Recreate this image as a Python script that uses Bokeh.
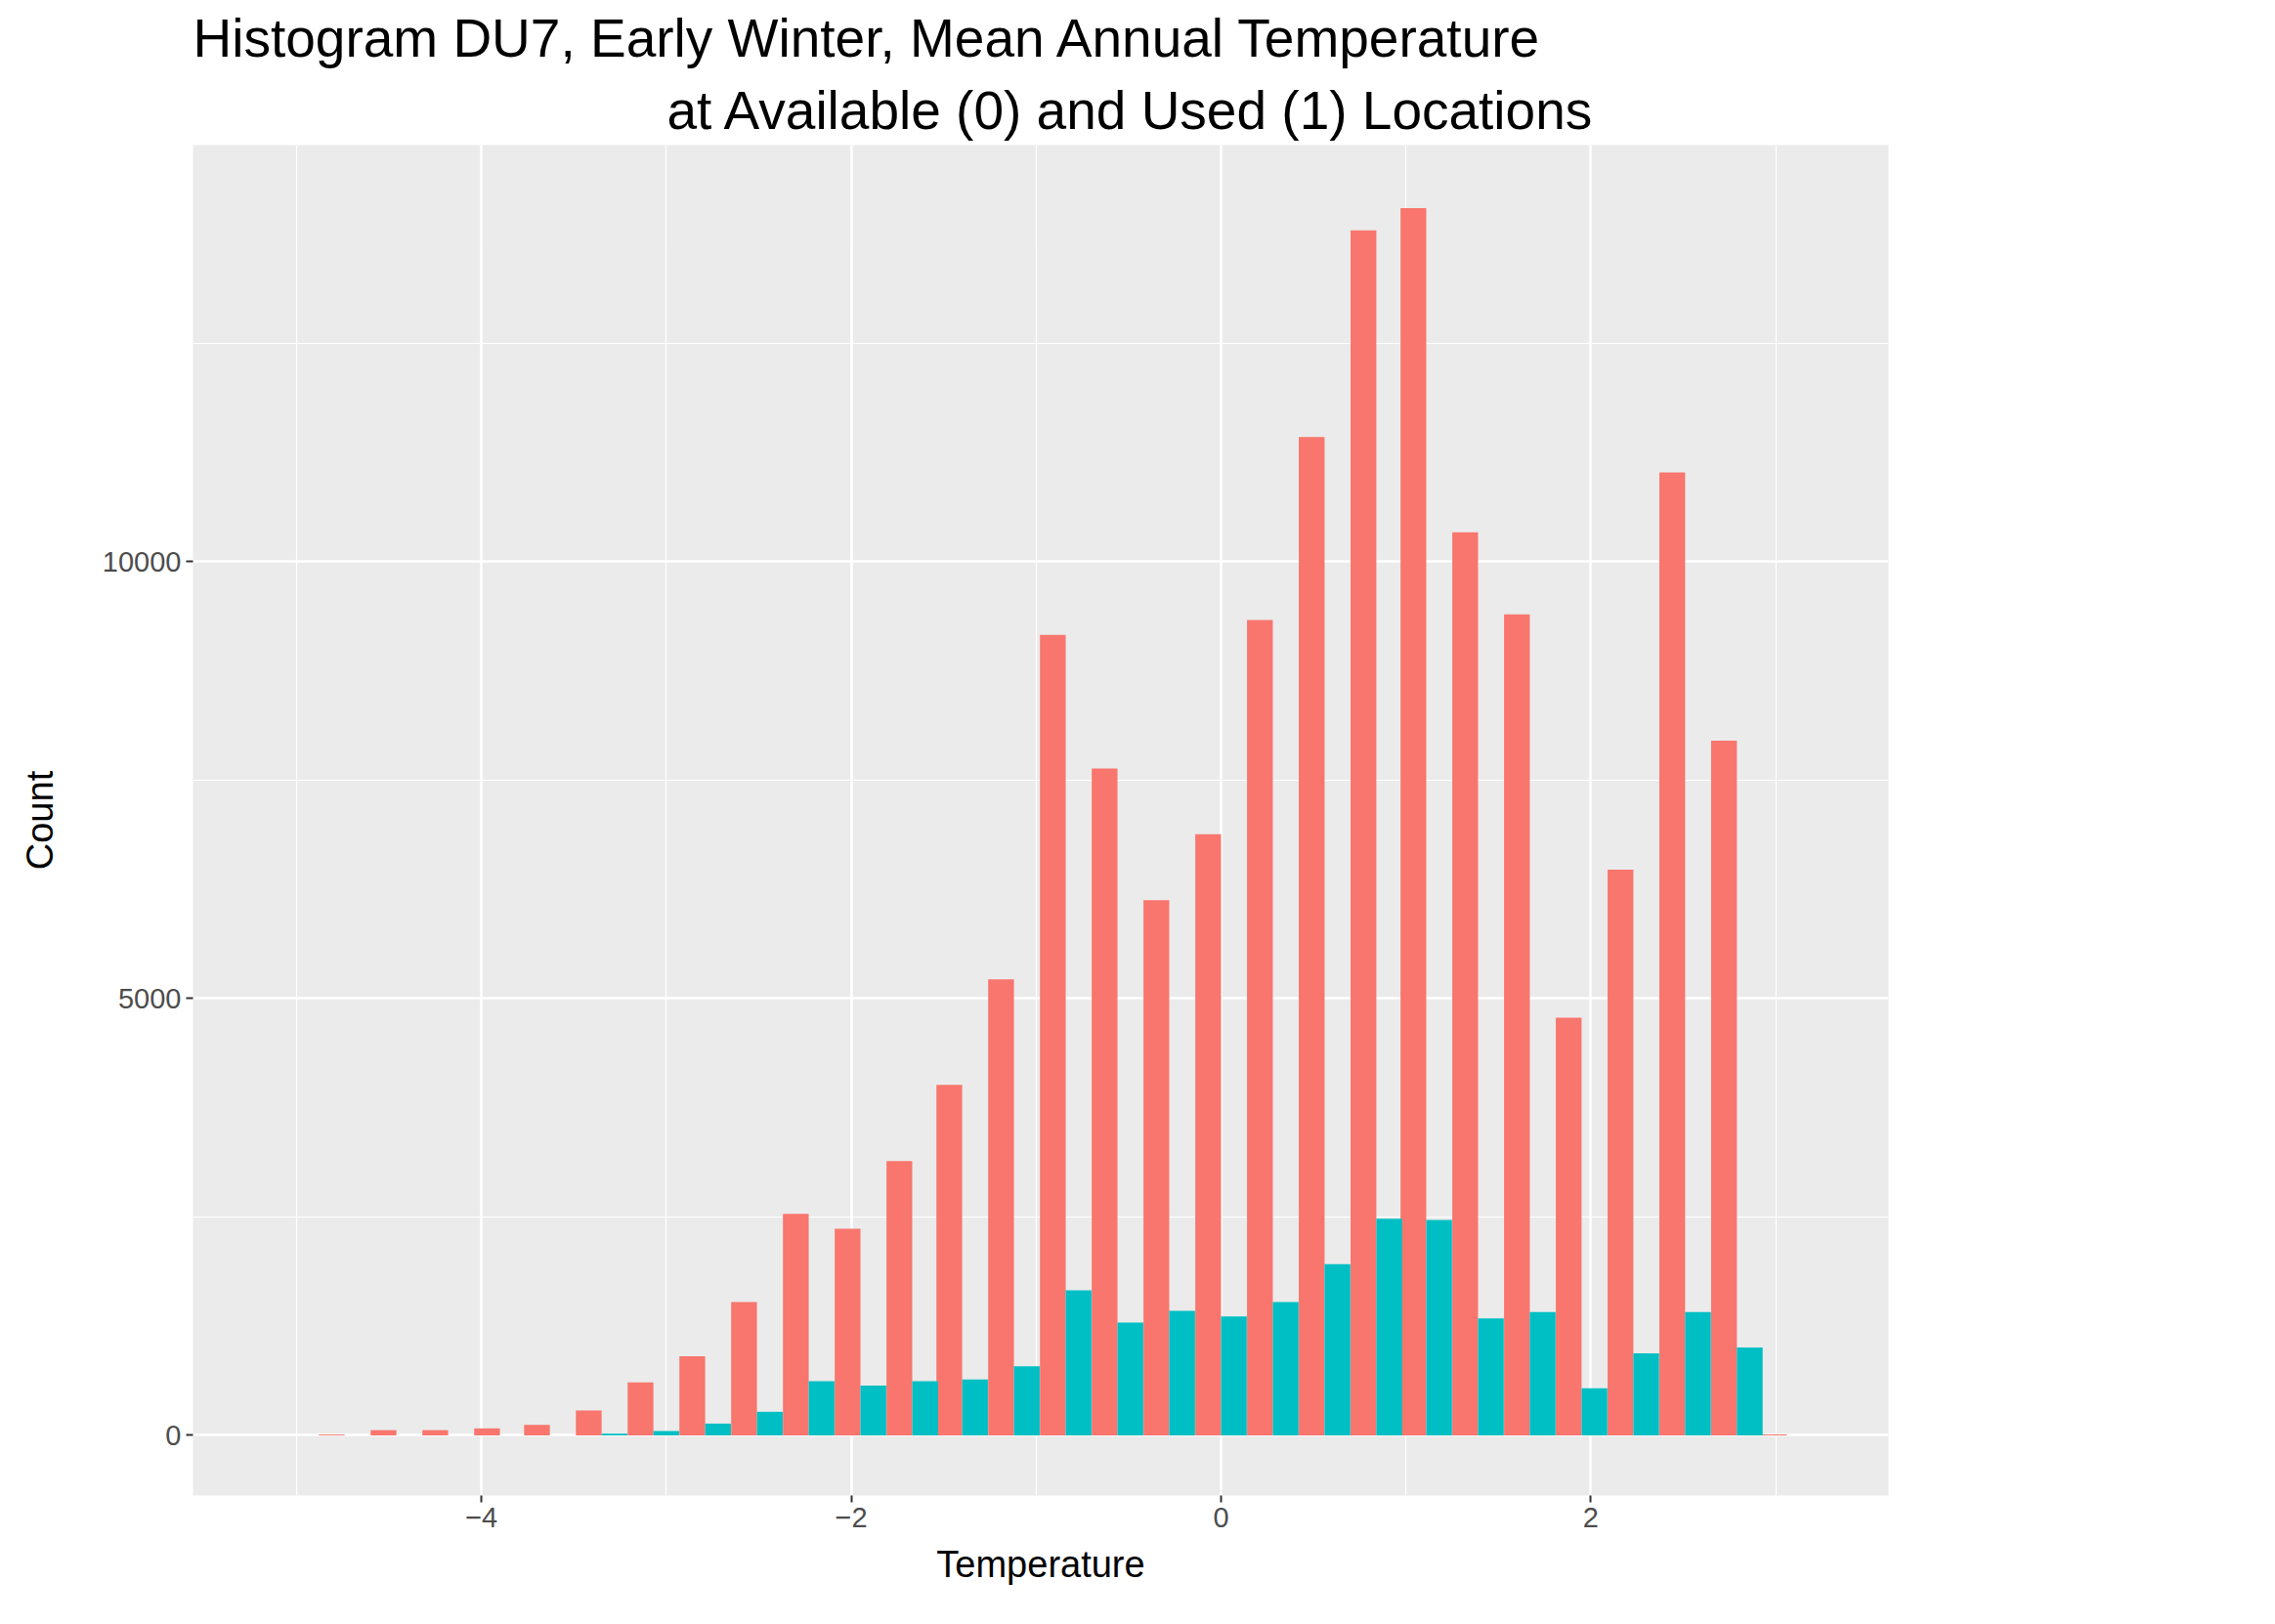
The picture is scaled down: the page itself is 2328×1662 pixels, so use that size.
from bokeh.plotting import figure
from bokeh.models import (ColumnDataSource, Legend, LegendItem, Title,
                          SingleIntervalTicker)
from bokeh.embed import file_html
from bokeh.resources import INLINE

# histogram bins (centres) and counts per location type
bin_centers = [-4.74, -4.46, -4.18, -3.90, -3.63, -3.35, -3.07, -2.79, -2.51,
               -2.23, -1.95, -1.67, -1.40, -1.12, -0.84, -0.56, -0.28, 0.00,
               0.28, 0.56, 0.84, 1.11, 1.39, 1.67, 1.95, 2.23, 2.51, 2.79, 3.06]
count_0 = [10, 60, 60, 80, 120, 285, 605, 905, 1525, 2535, 2365, 3140, 4010,
           5220, 9160, 7630, 6125, 6880, 9330, 11425, 13790, 14045, 10335,
           9395, 4780, 6475, 11020, 7950, 10]
count_1 = [0, 0, 0, 0, 0, 20, 50, 135, 270, 620, 570, 620, 640, 790, 1660,
           1290, 1425, 1360, 1525, 1960, 2480, 2465, 1340, 1410, 540, 940,
           1410, 1005, 0]
bin_width = 0.2786

FONT = "Liberation Sans"
RED = "#F8766D"
TEAL = "#00BFC4"

src = ColumnDataSource(dict(
    x0=[c - bin_width / 4 for c in bin_centers],
    x1=[c + bin_width / 4 for c in bin_centers],
    c0=count_0, c1=count_1))

p = figure(width=2310, height=1640, output_backend="svg", toolbar_location=None,
           x_range=(-5.56, 3.61), y_range=(-688, 14765),
           min_border_left=197, min_border_right=378,
           min_border_top=40, min_border_bottom=110)

r0 = p.vbar(x="x0", top="c0", bottom=0, width=bin_width / 2, source=src,
            fill_color=RED, line_color=None)
r1 = p.vbar(x="x1", top="c1", bottom=0, width=bin_width / 2, source=src,
            fill_color=TEAL, line_color=None)

p.background_fill_color = "#EBEBEB"
p.border_fill_color = "white"
p.outline_line_color = None

p.xaxis.ticker = SingleIntervalTicker(interval=2, num_minor_ticks=2)
p.yaxis.ticker = SingleIntervalTicker(interval=5000, num_minor_ticks=2)
p.xgrid.ticker = p.xaxis.ticker
p.ygrid.ticker = p.yaxis.ticker
for g in (p.xgrid, p.ygrid):
    g.grid_line_color = "white"
    g.grid_line_width = 2.5
    g.minor_grid_line_color = "white"
    g.minor_grid_line_width = 1.2

for ax in (p.xaxis, p.yaxis):
    ax.axis_line_color = None
    ax.major_tick_line_color = "#333333"
    ax.major_tick_line_width = 2
    ax.major_tick_out = 7
    ax.major_tick_in = 0
    ax.minor_tick_line_color = None
    ax.major_label_text_font = FONT
    ax.major_label_text_font_size = "29px"
    ax.major_label_text_color = "#4D4D4D"
    ax.axis_label_text_font = FONT
    ax.axis_label_text_font_size = "38px"
    ax.axis_label_text_font_style = "normal"
    ax.axis_label_text_color = "black"

p.xaxis.axis_label = "Temperature"
p.yaxis.axis_label = "Count"
p.yaxis.axis_label_standoff = 40
p.xaxis.axis_label_standoff = 14
p.yaxis.major_label_orientation = "horizontal"

t2 = Title(text="at Available (0) and Used (1) Locations", align="left",
           offset=485, text_font=FONT, text_font_size="55px",
           text_font_style="normal", text_color="black", standoff=10)
t1 = Title(text="Histogram DU7, Early Winter, Mean Annual Temperature",
           align="left", offset=0, text_font=FONT, text_font_size="55px",
           text_font_style="normal", text_color="black")
p.add_layout(t2, "above")
p.add_layout(t1, "above")

legend = Legend(items=[LegendItem(label="0", renderers=[r0]),
                       LegendItem(label="1", renderers=[r1])],
                title="Location Type", location=(1805, 584),
                title_text_font=FONT, title_text_font_size="41px",
                title_text_font_style="normal", title_standoff=14,
                label_text_font=FONT, label_text_font_size="30px",
                glyph_width=66, glyph_height=66, label_standoff=26,
                spacing=6, border_line_color=None,
                background_fill_color="white", background_fill_alpha=0,
                margin=0, padding=0)
p.add_layout(legend, "center")

open("out.html", "w").write(file_html(p, INLINE))
